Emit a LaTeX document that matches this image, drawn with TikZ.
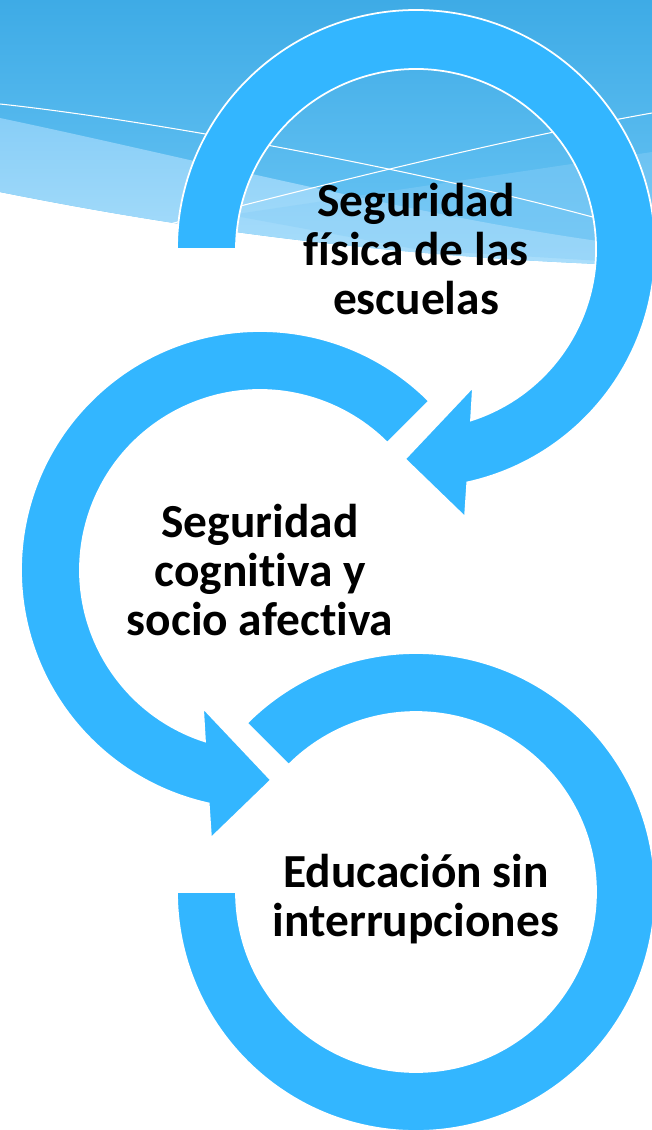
\documentclass[tikz,border=0pt]{standalone}
\usepackage{fontspec}
\setmainfont{Carlito}[Ligatures=NoCommon]
\definecolor{ringblue}{RGB}{51,182,255}
\definecolor{skytop}{RGB}{62,171,230}
\definecolor{skylow}{RGB}{108,198,245}
\definecolor{bandtop}{RGB}{136,206,247}
\definecolor{bandlow}{RGB}{170,222,251}

\begin{document}
\begin{tikzpicture}[x=0.02cm, y=-0.02cm,
    ring/.style = {fill=ringblue, draw=white, line width=1pt},
    streak/.style = {draw=white, line width=0.6pt},
    ringtext/.style = {align=center, inner sep=0pt, font=\bfseries\fontsize{27}{28}\selectfont}]
   \useasboundingbox (0,0) rectangle (652,1130);
   \shade[top color=skytop, bottom color=skylow] (0,0) -- (652,0) -- (652,266)
      .. controls (400,258) and (200,232) .. (0,192) -- cycle;
   \shade[top color=bandtop, bottom color=bandlow] (0,118) .. controls (200,160) and (450,225) .. (652,248)
      -- (652,266) .. controls (400,258) and (200,232) .. (0,192) -- cycle;
   \fill[bandtop, opacity=0.45] (230,215) -- (652,152) -- (652,264) -- (420,250) -- cycle;
   \draw[streak] (0,104) .. controls (150,120) and (420,170) .. (600,219);
   \draw[streak] (162,226) .. controls (330,183) and (500,140) .. (652,113);

   \coordinate (c1) at (416,249);
   \coordinate (c2) at (260,570);
   \coordinate (c3) at (416,892);

   \path[ring, shift={(c1)}] (180:239) arc[start angle=180, end angle=437.6, radius=239]
      -- (49,268) -- (-11,210) -- (57,138) -- (72.2:180)
      arc[start angle=72.2, end angle=-180, radius=180] -- cycle;
   \path[ring, shift={(c2)}] (-45:239) arc[start angle=-45, end angle=-257.6, radius=239]
      -- (-49,268) -- (11,210) -- (-57,138) -- (-252.2:180)
      arc[start angle=-252.2, end angle=-45, radius=180] -- cycle;
   \path[ring, shift={(c3)}] (225:239) arc[start angle=225, end angle=540, radius=239]
      -- (540:180) arc[start angle=540, end angle=225, radius=180] -- cycle;

   \node[ringtext] (fisica) at (c1) {Seguridad\\física de las\\escuelas};
   \node[ringtext] (cognitiva) at (c2) {Seguridad\\cognitiva y\\socio afectiva};
   \node[ringtext] (continua) at ([yshift=-4]c3) {Educación sin\\interrupciones};
\end{tikzpicture}
\end{document}
